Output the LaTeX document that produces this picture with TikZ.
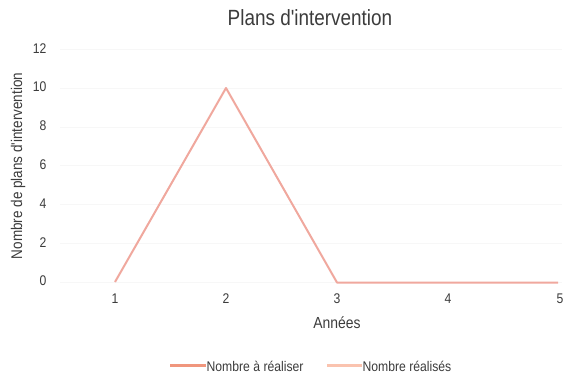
\documentclass[tikz,border=0pt]{standalone}
\usepackage{fontspec}
\setmainfont{Liberation Sans}
\definecolor{lineA}{RGB}{240,150,125}
\definecolor{lineB}{RGB}{250,195,175}
\definecolor{plotline}{RGB}{240,168,158}
\definecolor{txt}{RGB}{60,60,60}
\definecolor{grid}{RGB}{247,247,247}
\tikzset{
  tick/.style={text=txt,font=\fontsize{14}{16}\selectfont,inner sep=0pt,xscale=0.87},
  ticky/.style={tick,anchor=east},
  ttl/.style={text=txt,font=\fontsize{22}{26}\selectfont,inner sep=0pt,xscale=0.86},
  axt/.style={text=txt,font=\fontsize{16}{19}\selectfont,inner sep=0pt,xscale=0.87},
  axty/.style={text=txt,font=\fontsize{15.5}{18}\selectfont,inner sep=0pt,rotate=90,xscale=0.87},
  leg/.style={text=txt,font=\fontsize{14}{16}\selectfont,inner sep=0pt,anchor=west,xscale=0.87},
  dataline/.style={draw=plotline,line width=2pt,line join=round},
}
\begin{document}
\begin{tikzpicture}[x=1pt,y=-1pt]
\useasboundingbox[fill=white] (0,0) rectangle (566,383);
% gridlines
\foreach \v/\py in {0/282,2/243.2,4/204.4,6/165.6,8/126.8,10/88,12/49.2}{
  \draw[grid,line width=0.6pt] (60,\py) -- (562,\py);
}
\node[ttl] (title) at (310,18) {Plans d\textquotesingle intervention};
\foreach \v/\py in {0/281,2/242.2,4/203.4,6/164.6,8/125.8,10/87,12/48.2}{
  \node[ticky] (y\v) at (46.5,\py) {\v};
}
\foreach \n/\px in {1/115,2/226,3/337,4/448,5/560}{
  \node[tick] (x\n) at (\px,299) {\n};
}
\node[axty] (ytitle) at (18,166) {Nombre de plans d\textquotesingle intervention};
\node[axt] (xtitle) at (337,323) {Années};
% data
\coordinate (p1) at (115,282);
\coordinate (p2) at (226,88);
\coordinate (p3) at (337,282.5);
\coordinate (p4) at (448,282.5);
\coordinate (p5) at (558,282.5);
\draw[dataline] (p1) -- (p2) -- (p3) -- (p4) -- (p5);
% legend
\coordinate (la1) at (170,365.5);
\coordinate (la2) at (206,365.5);
\draw[draw=lineA,line width=2.2pt] (la1) -- (la2);
\node[leg] (lta) at (206.5,366) {Nombre à réaliser};
\coordinate (lb1) at (327,365.5);
\coordinate (lb2) at (362,365.5);
\draw[draw=lineB,line width=2.2pt] (lb1) -- (lb2);
\node[leg] (ltb) at (362.5,366) {Nombre réalisés};
\end{tikzpicture}
\end{document}
